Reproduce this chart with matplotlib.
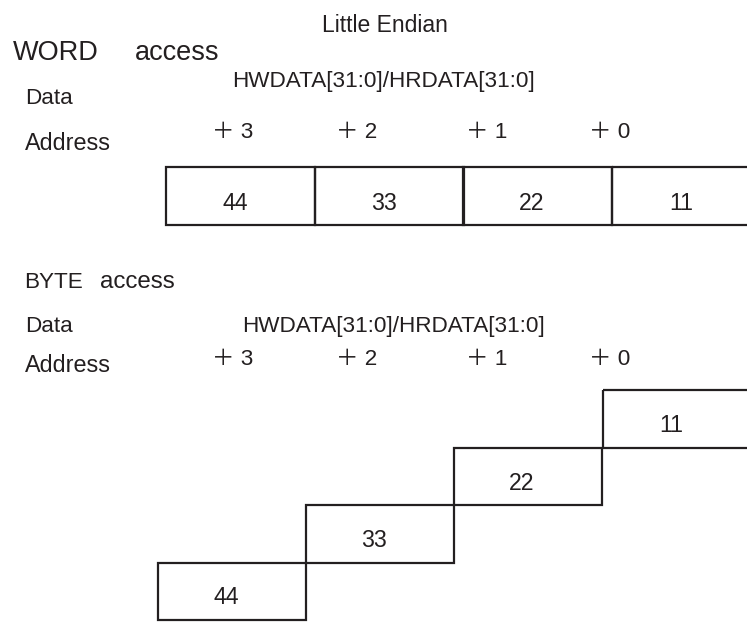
import matplotlib.pyplot as plt
from matplotlib.patches import Rectangle

plt.rcParams['font.family'] = ['Liberation Sans', 'Noto Sans CJK JP', 'DejaVu Sans']

title = "Little Endian"
bus_label = "HWDATA[31:0]/HRDATA[31:0]"
addresses = ["＋ 3", "＋ 2", "＋ 1", "＋ 0"]
bytes_word = ["44", "33", "22", "11"]
bytes_byte = ["44", "33", "22", "11"]

W, H = 747, 622
fig = plt.figure(figsize=(W / 100, H / 100), dpi=100)
ax = fig.add_axes([0, 0, 1, 1])
ax.set_xlim(0, W)
ax.set_ylim(H, 0)
ax.axis('off')

ink = '#231f20'
fs = 16.2
lw = 1.6

ax.text(322, 32, title, fontsize=16.5, color=ink, va='baseline')

# WORD access
ax.text(13, 60, "WORD", fontsize=19.5, color=ink, va='baseline')
ax.text(135, 60, "access", fontsize=19.5, color=ink, va='baseline')
ax.text(232, 87, bus_label, fontsize=fs, color=ink, va='baseline')
ax.text(25, 104, "Data", fontsize=fs, color=ink, va='baseline')
ax.text(25, 150, "Address", fontsize=fs + 0.6, color=ink, va='baseline')
addr_x = [212, 336, 466, 589]
for x, a in zip(addr_x, addresses):
    ax.text(x, 138, a, fontsize=fs, color=ink, va='baseline')

word_left = [166, 315, 463, 612]
cell_w = 149
for x, b in zip(word_left, bytes_word):
    ax.add_patch(Rectangle((x, 167), cell_w, 58, fill=False, ec=ink, lw=lw))
    ax.text(x + 69, 210, b, fontsize=fs + 0.5, color=ink, ha='center', va='baseline')

# BYTE access
ax.text(24, 288, "BYTE", fontsize=fs, color=ink, va='baseline')
ax.text(100, 288, "access", fontsize=fs + 1.2, color=ink, va='baseline',
        family=['Liberation Sans Narrow', 'Liberation Sans'])
ax.text(25, 332, "Data", fontsize=fs, color=ink, va='baseline')
ax.text(242, 332, bus_label, fontsize=fs, color=ink, va='baseline')
ax.text(25, 372, "Address", fontsize=fs + 0.6, color=ink, va='baseline')
for x, a in zip(addr_x, addresses):
    ax.text(x, 365, a, fontsize=fs, color=ink, va='baseline')

byte_left = [158, 306, 454, 603]
step = 57.5
for i, (x, b) in enumerate(zip(byte_left, bytes_byte)):
    top = 390 + (3 - i) * step
    ax.add_patch(Rectangle((x, top), 148, step, fill=False, ec=ink, lw=lw))
    ax.text(x + 68, top + 42, b, fontsize=fs + 0.5, color=ink, ha='center', va='baseline')

fig.savefig('out.png', dpi=100)
